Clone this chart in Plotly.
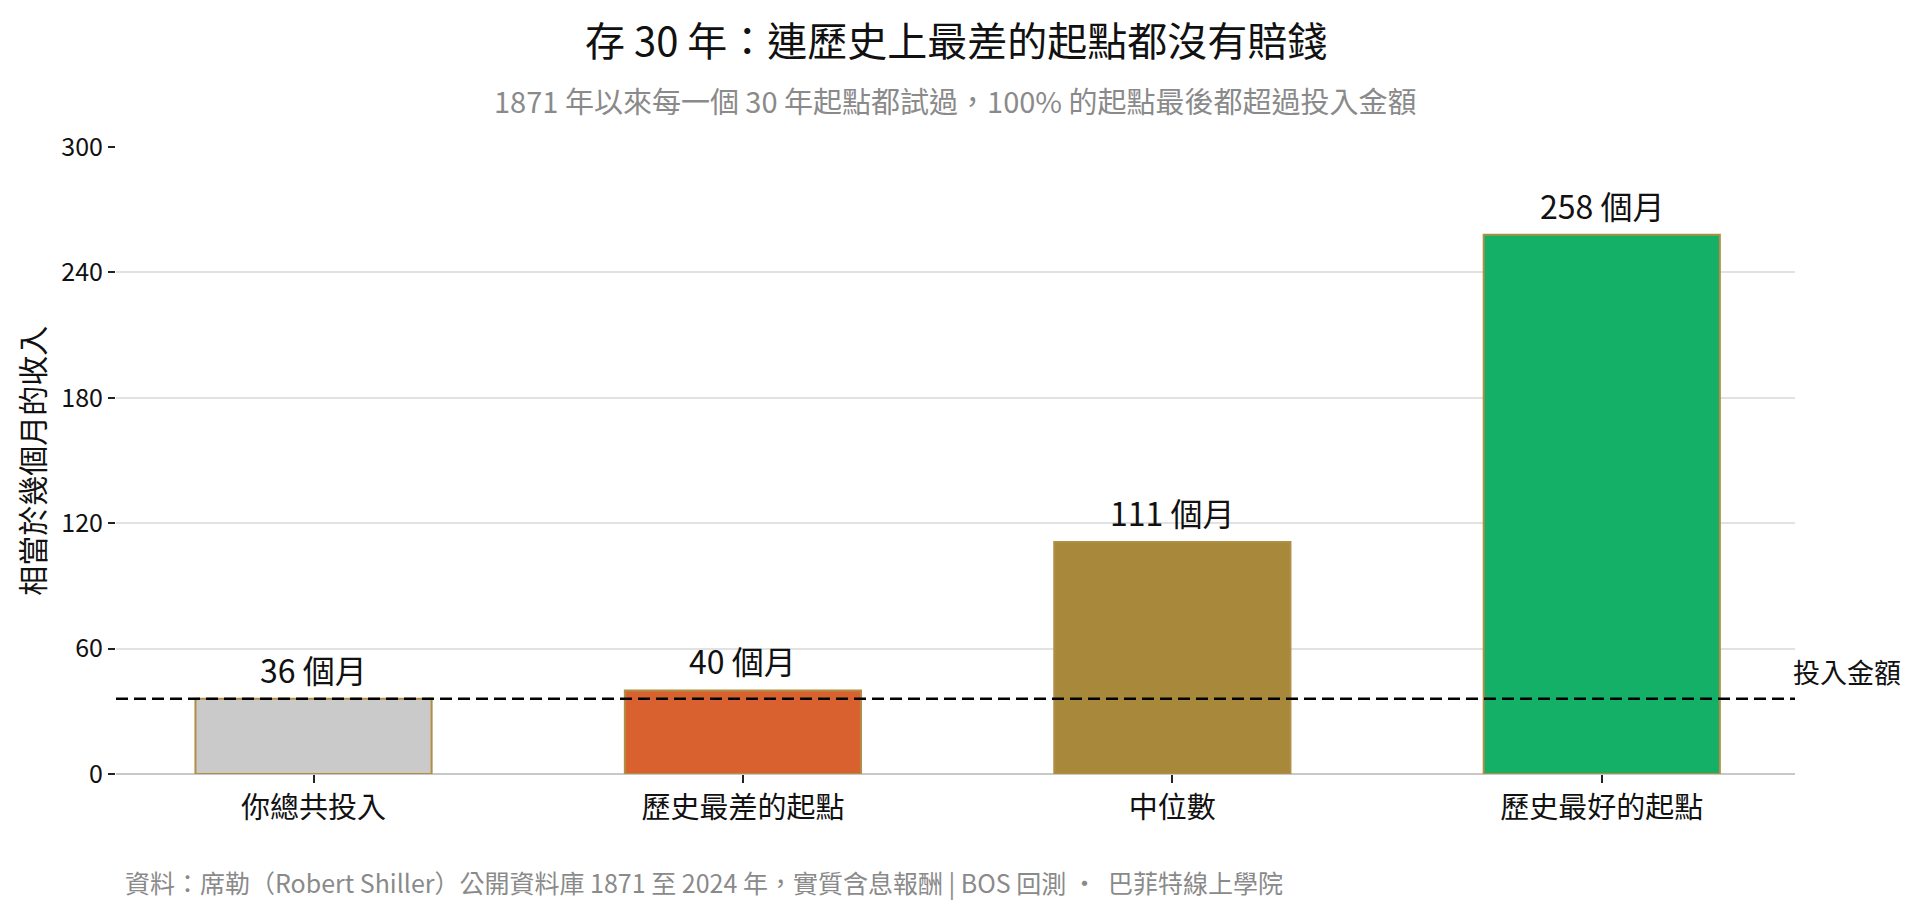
import plotly.graph_objects as go

# data
categories = ['你總共投入', '歷史最差的起點', '中位數', '歷史最好的起點']
months = [36, 40, 111, 258]
bar_colors = ['#c9cac9', '#d9612f', '#a8893c', '#14b067']
invested = 36
y_ticks = [0, 60, 120, 180, 240, 300]

title_text = '存 30 年：連歷史上最差的起點都沒有賠錢'
subtitle_text = '1871 年以來每一個 30 年起點都試過，100% 的起點最後都超過投入金額'
source_text = '資料：席勒（Robert Shiller）公開資料庫 1871 至 2024 年，實質含息報酬 | BOS 回測 ·  巴菲特線上學院'

FONT = 'Noto Sans CJK TC'

fig = go.Figure()
fig.add_trace(go.Bar(
    x=categories,
    y=months,
    width=0.55,
    marker=dict(color=bar_colors, line=dict(color='#b08f45', width=2)),
    hoverinfo='skip',
))

# value labels above bars
for c, v in zip(categories, months):
    fig.add_annotation(x=c, y=v, text=f'{v} 個月', showarrow=False,
                       yanchor='bottom', yshift=5,
                       font=dict(family=FONT, size=32, color='#111111'))

# invested line
fig.add_hline(y=invested, line=dict(color='black', width=2.5, dash='12px,6px'))
fig.add_annotation(xref='paper', x=1.0, y=invested, text='投入金額', showarrow=False,
                   xanchor='left', yanchor='bottom', yshift=6, xshift=-4,
                   font=dict(family=FONT, size=27, color='#111111'))

# title, subtitle, source, y title
fig.add_annotation(xref='paper', yref='paper', x=0.5, y=1.173, text=title_text,
                   showarrow=False, xanchor='center', yanchor='middle',
                   font=dict(family=FONT, size=40, color='#111111'))
fig.add_annotation(xref='paper', yref='paper', x=0.5, y=1.075, text=subtitle_text,
                   showarrow=False, xanchor='center', yanchor='middle',
                   font=dict(family=FONT, size=29, color='#8a8a8a'))
fig.add_annotation(xref='paper', yref='paper', x=0.004, y=-0.172, text=source_text,
                   showarrow=False, xanchor='left', yanchor='middle',
                   font=dict(family=FONT, size=25, color='#8a8a8a'))
fig.add_annotation(xref='paper', yref='paper', x=-0.051, y=0.5, text='相當於幾個月的收入',
                   showarrow=False, textangle=-90, xanchor='center', yanchor='middle',
                   font=dict(family=FONT, size=30, color='#111111'))

fig.update_layout(
    width=1920, height=915,
    margin=dict(l=108, r=133, t=139, b=149),
    paper_bgcolor='white', plot_bgcolor='white',
    showlegend=False,
    font=dict(family=FONT, color='#111111'),
    xaxis=dict(
        range=[-0.46, 3.45],
        showgrid=False, showline=False, zeroline=False,
        ticks='outside', ticklen=8, tickwidth=1.5, tickcolor='#222222',
        tickfont=dict(family=FONT, size=29, color='#111111'),
    ),
    yaxis=dict(
        range=[0, 300],
        tickvals=y_ticks,
        showgrid=True, gridcolor='#e2e2e2', gridwidth=1.5,
        zeroline=True, zerolinecolor='#c8c8c8', zerolinewidth=2,
        showline=False,
        ticks='outside', ticklen=7, tickwidth=2, tickcolor='#222222',
        tickfont=dict(family=FONT, size=25, color='#111111'),
    ),
)

fig.write_html('out.html')
